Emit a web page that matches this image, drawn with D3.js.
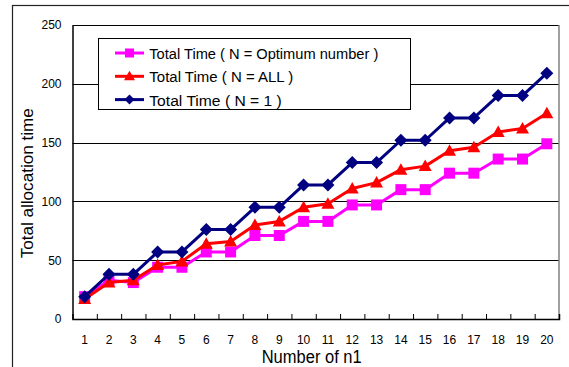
<!DOCTYPE html>
<html>
<head>
<meta charset="utf-8">
<script src="https://cdn.jsdelivr.net/npm/d3@7"></script>
<style>
  body { margin: 0; background: #fff; }
  text { font-family: Arial, 'Liberation Sans', sans-serif; fill: #000; }
</style>
</head>
<body>
<div id="chart"></div>
<script>
// chart values
const categories = ['1','2','3','4','5','6','7','8','9','10','11','12','13','14','15','16','17','18','19','20']
const optimumTimes = [19, 33, 31, 44, 44, 57, 57, 71, 71, 83, 83, 97, 97, 110, 110, 124, 124, 136, 136, 149]
const allTimes = [17, 31, 33, 46, 49, 64, 66, 80, 83, 95, 98, 111, 116, 127, 130, 143, 146, 159, 162, 175]
const oneTimes = [19, 38, 38, 57, 57, 76, 76, 95, 95, 114, 114, 133, 133, 152, 152, 171, 171, 190, 190, 209]
const yTicks = [0, 50, 100, 150, 200, 250]
const seriesNames = ['Total Time ( N = Optimum number )', 'Total Time ( N = ALL )', 'Total Time ( N = 1 )']

const margin = { top: 25, left: 72.5, right: 10, bottom: 48 }
const W = 569, H = 367
const width = W - margin.left - margin.right   // 486.5
const height = H - margin.top - margin.bottom  // 294

const svgRoot = d3.select('#chart').append('svg')
  .attr('width', W).attr('height', H)

// outer frame (runs off the right and bottom edges)
svgRoot.append('rect')
  .attr('x', 12.5).attr('y', 5.5)
  .attr('width', 600).attr('height', 400)
  .attr('fill', 'none').attr('stroke', '#222').attr('stroke-width', 1.2)

const svg = svgRoot.append('g')
  .attr('transform', 'translate(' + margin.left + ',' + margin.top + ')')

const xScale = d3.scaleBand().domain(categories).range([0, width]).padding(0)
const xEdge = d3.scaleLinear().domain([0, categories.length]).range([0, width])
const yScale = d3.scaleLinear().domain([0, 250]).range([height, 0])

// gridlines
svg.selectAll('.grid')
  .data(yTicks.filter(d => d > 0 && d < 250))
  .enter().append('line')
  .attr('class', 'grid')
  .attr('x1', 0).attr('x2', width)
  .attr('y1', d => Math.round(yScale(d)) + 0.5).attr('y2', d => Math.round(yScale(d)) + 0.5)
  .attr('stroke', '#000').attr('stroke-width', 1)

// plot frame: top black, right grey
svg.append('line').attr('x1', 0).attr('x2', width).attr('y1', 0.5).attr('y2', 0.5)
  .attr('stroke', '#000')
svg.append('line').attr('x1', width).attr('x2', width).attr('y1', 0).attr('y2', height)
  .attr('stroke', '#808080').attr('stroke-width', 1.5)

// y axis
const yAxis = d3.axisLeft(yScale).tickValues(yTicks).tickSize(0).tickPadding(11)
svg.append('g').attr('class', 'axis y-axis')
  .call(yAxis)
  .call(g => g.select('.domain').attr('stroke', '#000').attr('stroke-width', 1.5))
  .selectAll('text').attr('font-size', '12px').attr('fill', '#000')

// x axis labels
const xAxis = d3.axisBottom(xScale).tickSize(0).tickPadding(16)
svg.append('g').attr('class', 'axis x-axis')
  .attr('transform', 'translate(0,' + height + ')')
  .call(xAxis)
  .call(g => g.select('.domain').remove())
  .selectAll('text').attr('font-size', '12px').attr('fill', '#000')

// x axis line + ticks between categories (pointing inward)
const xEdgeAxis = d3.axisBottom(xEdge).tickValues(d3.range(1, categories.length + 1))
  .tickSize(-5).tickFormat('')
svg.append('g').attr('class', 'axis x-edge')
  .attr('transform', 'translate(0,' + height + ')')
  .call(xEdgeAxis)
  .call(g => g.select('.domain').attr('stroke', '#000').attr('stroke-width', 1.5))
  .selectAll('line').attr('stroke', '#000')

const cx = (d, i) => xScale(categories[i]) + xScale.bandwidth() / 2

const line = d3.line()
  .x((d, i) => cx(d, i))
  .y(d => yScale(d))

const markerPath = {
  square: 'M-5.5,-5.5H5.5V5.5H-5.5Z',
  triangle: 'M0,-6.5L6.5,5L-6.5,5Z',
  diamond: 'M0,-6.5L6.5,0L0,6.5L-6.5,0Z'
}
const legendMarker = {
  square: 'M-4.5,-4.5H4.5V4.5H-4.5Z',
  triangle: 'M0,-5.5L5.5,4L-5.5,4Z',
  diamond: 'M0,-5L5,0L0,5L-5,0Z'
}

const series = [
  { name: seriesNames[0], values: optimumTimes, color: '#ff00ff', marker: 'square' },
  { name: seriesNames[1], values: allTimes, color: '#ff0000', marker: 'triangle' },
  { name: seriesNames[2], values: oneTimes, color: '#000080', marker: 'diamond' }
]

series.forEach(s => {
  svg.append('path')
    .datum(s.values)
    .attr('d', line)
    .attr('fill', 'none')
    .attr('stroke', s.color)
    .attr('stroke-width', 3)
    .attr('stroke-linejoin', 'round')

  svg.selectAll('.pt-' + s.marker)
    .data(s.values)
    .enter().append('path')
    .attr('class', 'pt-' + s.marker)
    .attr('d', markerPath[s.marker])
    .attr('transform', (d, i) => 'translate(' + cx(d, i) + ',' + yScale(d) + ')')
    .attr('fill', s.color)
})

// legend
const legend = svgRoot.append('g').attr('class', 'legend')
legend.append('rect')
  .attr('x', 98.5).attr('y', 38.5).attr('width', 312).attr('height', 71)
  .attr('fill', '#fff').attr('stroke', '#000').attr('stroke-width', 1)

const legendWidths = [229, 144, 132.5]
series.forEach((s, i) => {
  const y = 53 + i * 23.3
  legend.append('line')
    .attr('x1', 115).attr('x2', 144).attr('y1', y).attr('y2', y)
    .attr('stroke', s.color).attr('stroke-width', 3)
  legend.append('path')
    .attr('d', legendMarker[s.marker])
    .attr('transform', 'translate(129.5,' + y + ')')
    .attr('fill', s.color)
  legend.append('text')
    .text(s.name)
    .attr('x', 149.3).attr('y', y + 6)
    .attr('font-size', '15.5px')
    .attr('textLength', legendWidths[i])
    .attr('lengthAdjust', 'spacingAndGlyphs')
})

// axis titles
svgRoot.append('text')
  .text('Number of n1')
  .attr('x', 261.7).attr('y', 363.3)
  .attr('font-size', '18px')
  .attr('textLength', 100)
  .attr('lengthAdjust', 'spacingAndGlyphs')

svgRoot.append('text')
  .text('Total allocation time')
  .attr('transform', 'translate(33,183.3) rotate(-90)')
  .attr('text-anchor', 'middle')
  .attr('font-size', '17px')
  .attr('textLength', 150)
  .attr('lengthAdjust', 'spacingAndGlyphs')
</script>
</body>
</html>
